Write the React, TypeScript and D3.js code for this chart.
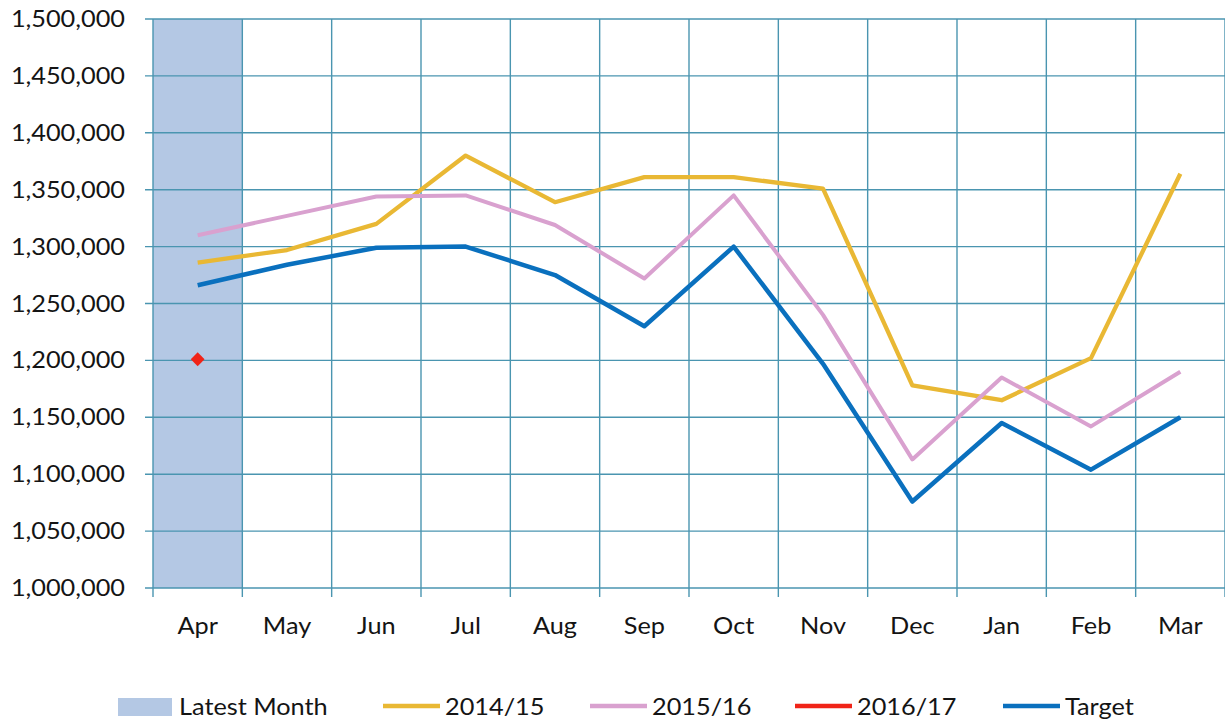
import React, { useEffect, useRef } from 'react';
import * as d3 from 'd3';

// --- Data ---
const months = ['Apr', 'May', 'Jun', 'Jul', 'Aug', 'Sep', 'Oct', 'Nov', 'Dec', 'Jan', 'Feb', 'Mar'];
const series1415 = [1286000, 1297000, 1320000, 1380000, 1339000, 1361000, 1361000, 1351000, 1178000, 1165000, 1202000, 1364000];
const series1516 = [1310000, 1327000, 1344000, 1345000, 1319000, 1272000, 1345000, 1240000, 1113000, 1185000, 1142000, 1190000];
const series1617 = [1201000];
const target = [1266000, 1284000, 1299000, 1300000, 1275000, 1230000, 1300000, 1197000, 1076000, 1145000, 1104000, 1150000];
const latestMonth = ['Apr'];
const yTicks = d3.range(1000000, 1500001, 50000);
const legendNames = ['Latest Month', '2014/15', '2015/16', '2016/17', 'Target'];

const App: React.FC = () => {
  const svgRef = useRef<SVGSVGElement | null>(null);

  useEffect(() => {
    if (!svgRef.current) return;
    const width = 1225;
    const height = 726;
    const margin = { top: 19, right: 0, bottom: 138, left: 153 };

    const svg = d3.select(svgRef.current);
    svg.selectAll('*').remove();

    const x = d3.scaleBand<string>().domain(months).range([margin.left, width - margin.right]).padding(0);
    const y = d3.scaleLinear().domain([1000000, 1500000]).range([height - margin.bottom, margin.top]);

    const gridColor = '#4a95b0';
    const font = "Lato, 'Open Sans', sans-serif";
    const textColor = '#141414';
    const stretch = 1.1;
    const fmt = d3.format(',');

    const g = svg.append('g');

    // Latest month band (bar series)
    g.selectAll('.band').data(latestMonth).enter().append('rect')
      .attr('x', d => x(d)!).attr('width', x.bandwidth())
      .attr('y', y(1500000)).attr('height', y(1000000) - y(1500000))
      .attr('fill', '#b4c8e4');

    // Horizontal gridlines
    g.selectAll('.h-grid').data(yTicks).enter().append('line')
      .attr('x1', margin.left - 8).attr('x2', width - margin.right)
      .attr('y1', d => y(d)).attr('y2', d => y(d))
      .attr('stroke', gridColor).attr('stroke-width', 1.4);

    // Vertical gridlines at category boundaries
    const bounds = months.map(m => x(m)!).concat([x(months[months.length - 1])! + x.bandwidth()]);
    g.selectAll('.v-grid').data(bounds).enter().append('line')
      .attr('x1', d => d).attr('x2', d => d)
      .attr('y1', y(1500000)).attr('y2', y(1000000) + 9)
      .attr('stroke', gridColor).attr('stroke-width', 1.4);

    // Y tick labels
    g.selectAll('.y-label').data(yTicks).enter().append('text')
      .attr('transform', d => `translate(125,${y(d) + 8}) scale(${stretch},1)`)
      .attr('text-anchor', 'end').attr('font-family', font).attr('font-size', 23).attr('fill', textColor)
      .text(d => fmt(d));

    // X labels
    g.selectAll('.x-label').data(months).enter().append('text')
      .attr('transform', d => `translate(${x(d)! + x.bandwidth() / 2},634) scale(${stretch},1)`)
      .attr('text-anchor', 'middle').attr('font-family', font).attr('font-size', 23).attr('fill', textColor)
      .text(d => d);

    // Lines
    const line = d3.line<number>()
      .x((_d, i) => x(months[i])! + x.bandwidth() / 2)
      .y(d => y(d));

    const lines = [
      { data: series1415, color: '#e9b834', w: 4.3 },
      { data: series1516, color: '#d9a1cf', w: 4 },
      { data: target, color: '#0a70be', w: 4.5 },
    ];
    lines.forEach(s => {
      g.append('path').datum(s.data)
        .attr('fill', 'none').attr('stroke', s.color).attr('stroke-width', s.w)
        .attr('stroke-linejoin', 'round')
        .attr('d', line);
    });

    // 2016/17 single point (diamond)
    g.selectAll('.pt').data(series1617).enter().append('path')
      .attr('d', d3.symbol().type(d3.symbolSquare).size(95)())
      .attr('transform', (d, i) => `translate(${x(months[i])! + x.bandwidth() / 2},${y(d)}) rotate(45)`)
      .attr('fill', '#f02418');

    // Legend
    const legendColors = ['#b4c8e4', '#e9b834', '#d9a1cf', '#f02418', '#0a70be'];
    const legendX = [118, 383, 590, 795, 1003];
    const ly = 706;
    const legend = g.selectAll('.legend').data(legendNames).enter().append('g')
      .attr('transform', (_d, i) => `translate(${legendX[i]},${ly})`);
    legend.each(function (_d, i) {
      const el = d3.select(this);
      if (i === 0) {
        el.append('rect').attr('x', 0).attr('y', -8).attr('width', 54).attr('height', 18).attr('fill', legendColors[i]);
      } else {
        el.append('line').attr('x1', 0).attr('x2', 57).attr('y1', 0).attr('y2', 0)
          .attr('stroke', legendColors[i]).attr('stroke-width', 4.5);
      }
    });
    legend.append('text')
      .attr('transform', (_d, i) => `translate(${i === 0 ? 61 : 62},9) scale(${stretch},1)`)
      .attr('font-family', font).attr('font-size', 23).attr('fill', textColor)
      .text(d => d);
  }, []);

  return (
    <svg ref={svgRef} width={1225} height={726}
      style={{ position: 'absolute', left: 0, top: 0, background: '#ffffff' }} />
  );
};

export default App;
